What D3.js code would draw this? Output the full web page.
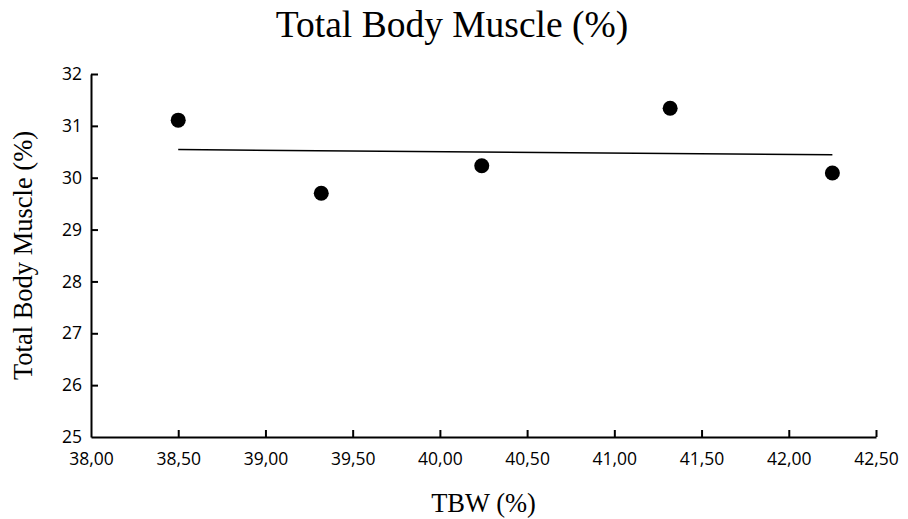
<!DOCTYPE html>
<html>
<head>
<meta charset="utf-8">
<script src="https://cdn.jsdelivr.net/npm/d3@7"></script>
<style>
  html, body { margin: 0; padding: 0; background: #fff; }
  svg { display: block; }
</style>
</head>
<body>
<svg id="chart" width="908" height="519"></svg>
<script>
// Measurements: total body water vs. total body muscle
const tbw    = [38.50, 39.32, 40.24, 41.32, 42.25];
const muscle = [31.11, 29.70, 30.23, 31.34, 30.09];
const xTicks = [38.0, 38.5, 39.0, 39.5, 40.0, 40.5, 41.0, 41.5, 42.0, 42.5];
const yTicks = [25, 26, 27, 28, 29, 30, 31, 32];

const W = 908, H = 519;
const margin = { left: 91, right: 32, top: 74, bottom: 82 };

const svg = d3.select("#chart");

const x = d3.scaleLinear().domain([38, 42.5]).range([margin.left, W - margin.right]);
const y = d3.scaleLinear().domain([25, 32]).range([H - margin.bottom, margin.top]);

const fmtX = v => d3.format(".2f")(v).replace(".", ",");
const tickFont = "'Open Sans', 'Liberation Sans', sans-serif";
const serif = "'Liberation Serif', 'Times New Roman', serif";

// x axis with ticks pointing into the plot
const gx = svg.append("g")
  .attr("transform", `translate(0,${y(25)})`)
  .call(d3.axisBottom(x).tickValues(xTicks).tickFormat(fmtX).tickSizeInner(-7).tickSizeOuter(0).tickPadding(16));
// y axis with ticks pointing into the plot
const gy = svg.append("g")
  .attr("transform", `translate(${x(38)},0)`)
  .call(d3.axisLeft(y).tickValues(yTicks).tickFormat(d3.format("d")).tickSizeInner(-7).tickSizeOuter(0).tickPadding(9));

[gx, gy].forEach(g => {
  g.select(".domain").attr("stroke", "#000").attr("stroke-width", 2);
  g.selectAll(".tick line").attr("stroke", "#000").attr("stroke-width", 2);
  g.selectAll(".tick text").attr("fill", "#000").attr("font-family", tickFont).attr("font-size", 17.5);
});
gx.selectAll(".tick").filter(d => d === 38).select("line").remove();
gy.selectAll(".tick").filter(d => d === 25).select("line").remove();

// Least-squares trend line over the data range
const mx = d3.mean(tbw), my = d3.mean(muscle);
const sxy = d3.sum(tbw, (v, i) => (v - mx) * (muscle[i] - my));
const sxx = d3.sum(tbw, v => (v - mx) * (v - mx));
const slope = sxy / sxx, intercept = my - slope * mx;
const x0 = d3.min(tbw), x1 = d3.max(tbw);

svg.append("line")
  .attr("x1", x(x0)).attr("y1", y(intercept + slope * x0))
  .attr("x2", x(x1)).attr("y2", y(intercept + slope * x1))
  .attr("stroke", "#000").attr("stroke-width", 1.5);

// Data points
svg.append("g").selectAll("circle")
  .data(tbw.map((v, i) => [v, muscle[i]]))
  .join("circle")
  .attr("cx", d => x(d[0]))
  .attr("cy", d => y(d[1]))
  .attr("r", 7.5)
  .attr("fill", "#000");

// Title
svg.append("text")
  .attr("x", 452).attr("y", 37)
  .attr("text-anchor", "middle")
  .attr("font-family", serif).attr("font-size", 37.5)
  .attr("fill", "#000")
  .text("Total Body Muscle (%)");

// Axis titles
svg.append("text")
  .attr("x", (x(38) + x(42.5)) / 2).attr("y", 512)
  .attr("text-anchor", "middle")
  .attr("font-family", serif).attr("font-size", 26.5)
  .attr("fill", "#000")
  .text("TBW (%)");

svg.append("text")
  .attr("transform", `translate(32,${(y(25) + y(32)) / 2}) rotate(-90)`)
  .attr("text-anchor", "middle")
  .attr("font-family", serif).attr("font-size", 26.5)
  .attr("fill", "#000")
  .text("Total Body Muscle (%)");
</script>
</body>
</html>
